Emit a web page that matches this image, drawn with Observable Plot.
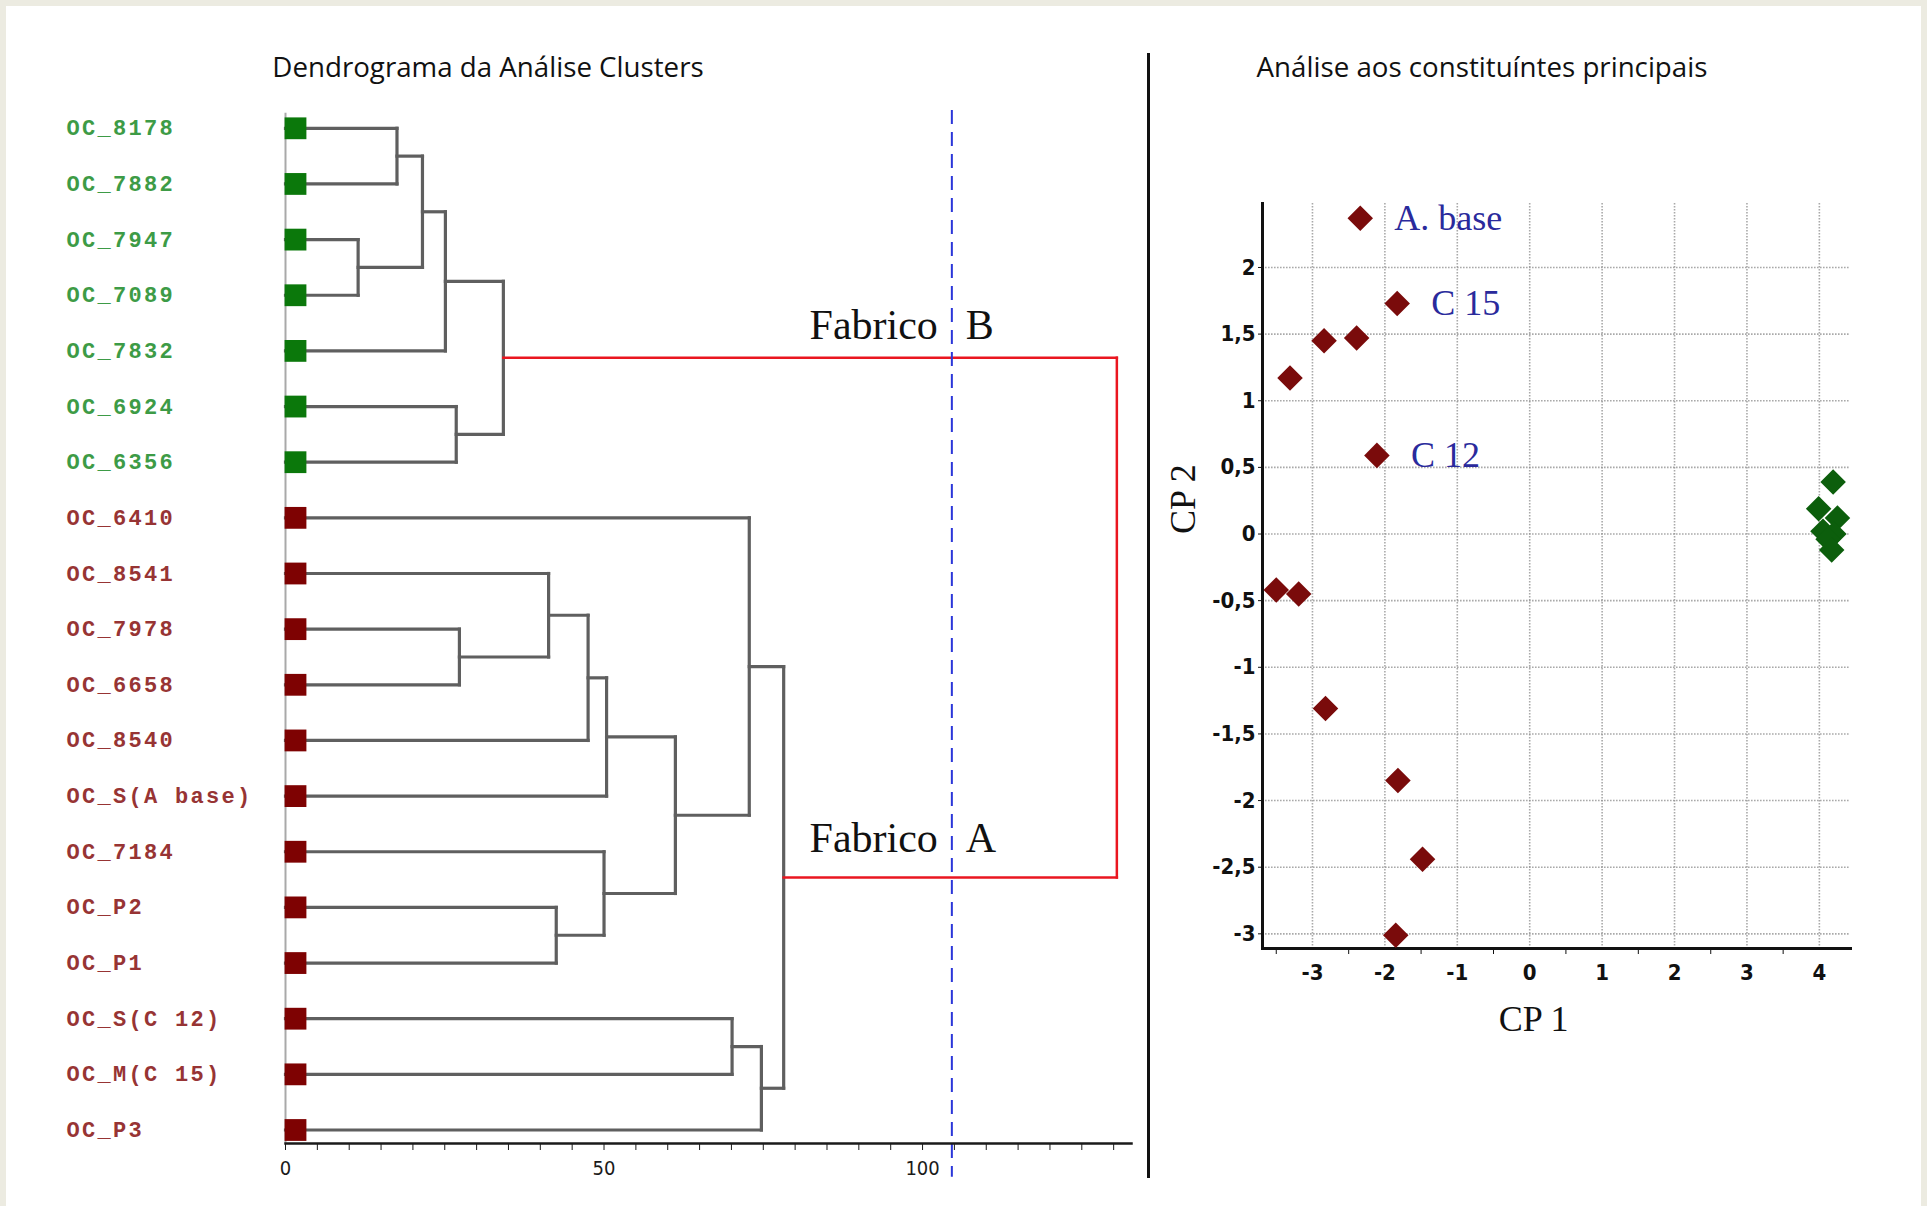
<!DOCTYPE html>
<html><head><meta charset="utf-8">
<script src="https://cdn.jsdelivr.net/npm/d3@7"></script>
<script src="https://cdn.jsdelivr.net/npm/@observablehq/plot@0.6"></script>
<style>
html,body{margin:0;padding:0;}
body{width:1927px;height:1206px;background:#ecebe1;position:relative;overflow:hidden;}
#panel{position:absolute;left:6px;top:6px;width:1915px;height:1200px;background:#fff;}
.abs{position:absolute;}
.title{font-family:"Open Sans",sans-serif;font-size:27.7px;color:#111;white-space:nowrap;transform:translate(-50%,-50%);}
#divider{left:1147px;top:53px;width:3px;height:1125px;background:#111;}
#dendro g[font-family*="Liberation Mono"], #dendro g[font-family*="Liberation Mono"] text{letter-spacing:2.3px;}
</style></head><body>
<div id="panel"></div>
<div id="dendro" class="abs" style="left:0;top:0;width:1140px"></div>
<div id="pca" class="abs" style="left:1148px;top:0;width:779px"></div>
<div id="divider" class="abs"></div>
<div class="abs title" style="left:488px;top:66px">Dendrograma da Análise Clusters</div>
<div class="abs title" style="left:1482px;top:66px">Análise aos constituíntes principais</div>
<script>
// ---------- Dendrogram data ----------
const leafNames = ["OC_8178","OC_7882","OC_7947","OC_7089","OC_7832","OC_6924","OC_6356",
  "OC_6410","OC_8541","OC_7978","OC_6658","OC_8540","OC_S(A base)","OC_7184","OC_P2","OC_P1",
  "OC_S(C 12)","OC_M(C 15)","OC_P3"];
const leafGroup = ["B","B","B","B","B","B","B","A","A","A","A","A","A","A","A","A","A","A","A"];
// merges: node ids 0..18 = leaves, 19.. = merges in order
const mergeLeft   = [0, 2, 19, 21, 5, 22, 9, 8, 26, 27, 14, 13, 28, 7, 16, 33, 32, 24];
const mergeRight  = [1, 3, 20, 4, 6, 23, 10, 25, 11, 12, 15, 29, 30, 31, 17, 18, 34, 35];
const mergeHeight = [17.5, 11.4, 21.5, 25.1, 26.8, 34.2, 27.3, 41.3, 47.5, 50.4, 42.5, 50.0, 61.2, 72.8, 70.1, 74.7, 78.2, 130.5];
const distTicks = d3.range(0, 131, 5);
const distLabels = [0, 50, 100];
const cutHeight = 104.6;
const fabricoNames = ["Fabrico", "B", "Fabrico", "A"];
const fabricoRow = [3.78, 3.78, 13.0, 13.0];

// ---------- PCA data ----------
const pcX = [-2.34, -1.83, -2.84, -2.39, -3.31, -2.11, -3.50, -3.19, -2.82, -1.82, -1.48, -1.85,
             4.19, 3.99, 4.25, 4.05, 4.20, 4.12, 4.17];
const pcY = [2.37, 1.73, 1.45, 1.47, 1.17, 0.59, -0.42, -0.45, -1.31, -1.85, -2.44, -3.01,
             0.39, 0.19, 0.12, 0.02, 0.00, -0.04, -0.12];
const pcGroup = ["A","A","A","A","A","A","A","A","A","A","A","A","B","B","B","B","B","B","B"];
const pcLabel = ["A. base","C 15","","","","C 12","","","","","","","","","","","","",""];
const cpXTicks = d3.range(-3, 5, 1);
const cpYTicks = [-3, -2.5, -2, -1.5, -1, -0.5, 0, 0.5, 1, 1.5, 2];
const cpXMinor = [-3.5, -2.5, -1.5, -0.5, 0.5, 1.5, 2.5, 3.5];

// ---------- build dendrogram segments ----------
const nLeaf = leafNames.length;
const pos = d3.range(nLeaf), hgt = new Array(nLeaf).fill(0);
const segs = [];
mergeLeft.forEach((a, k) => {
  const b = mergeRight[k], h = mergeHeight[k];
  const root = k === mergeLeft.length - 1;
  segs.push({x1: hgt[a], y1: pos[a], x2: h, y2: pos[a], root});
  segs.push({x1: hgt[b], y1: pos[b], x2: h, y2: pos[b], root});
  segs.push({x1: h, y1: pos[a], x2: h, y2: pos[b], root});
  pos.push((pos[a] + pos[b]) / 2); hgt.push(h);
});
const leaves = leafNames.map((name, i) => ({name, i, group: leafGroup[i]}));
const fab = fabricoNames.map((t, i) => ({t, row: fabricoRow[i], side: i % 2 === 0 ? "end" : "start"}));

const narrow = "'Liberation Sans Narrow','DejaVu Sans Condensed','Liberation Sans',sans-serif";
const serif = "'Liberation Serif','DejaVu Serif',serif";
const mono = "'Liberation Mono',monospace";

const dendro = Plot.plot({
  width: 1140, height: 1206,
  marginLeft: 285, marginRight: 9, marginTop: 0, marginBottom: 63,
  style: {background: "transparent", overflow: "visible", color: "#1a1a1a"},
  x: {domain: [0, 132.8]},
  y: {domain: [0, 18], range: [127.8, 1129.5], axis: null},
  marks: [
    Plot.ruleX([0], {y1: -0.27, y2: 18.24, stroke: "#a9a9a9", strokeWidth: 2}),
    Plot.link(segs.filter(d => !d.root), {x1: "x1", y1: "y1", x2: "x2", y2: "y2", stroke: "#5f5f5f", strokeWidth: 3.2, strokeLinecap: "square"}),
    Plot.link(segs.filter(d => d.root), {x1: "x1", y1: "y1", x2: "x2", y2: "y2", stroke: "#ea1620", strokeWidth: 2.5, strokeLinecap: "square"}),
    Plot.ruleX([cutHeight], {y1: -0.32, y2: 18.85, stroke: "#2b36d9", strokeWidth: 2, strokeDasharray: "14,8"}),
    Plot.dot(leaves.filter(d => d.group === "B"), {x: 0, y: "i", symbol: "square", r: 12.3, dx: 10, fill: "#0b780b"}),
    Plot.dot(leaves.filter(d => d.group === "A"), {x: 0, y: "i", symbol: "square", r: 12.3, dx: 10, fill: "#7e0202"}),
    Plot.text(leaves.filter(d => d.group === "B"), {x: 0, y: "i", text: "name", dx: -219, textAnchor: "start", fill: "#3d9b46", fontFamily: mono, fontWeight: "bold", fontSize: 22}),
    Plot.text(leaves.filter(d => d.group === "A"), {x: 0, y: "i", text: "name", dx: -219, textAnchor: "start", fill: "#973434", fontFamily: mono, fontWeight: "bold", fontSize: 22}),
    Plot.text(fab.filter(d => d.side === "end"), {x: cutHeight, y: "row", text: "t", dx: -14, textAnchor: "end", lineAnchor: "bottom", fontFamily: serif, fontSize: 42, fill: "#111"}),
    Plot.text(fab.filter(d => d.side === "start"), {x: cutHeight, y: "row", text: "t", dx: 14, textAnchor: "start", lineAnchor: "bottom", fontFamily: serif, fontSize: 42, fill: "#111"}),
    Plot.frame({anchor: "bottom", stroke: "#1a1a1a", strokeWidth: 2.5}),
    Plot.axisX({ticks: distTicks, tickSize: 7, tickPadding: 10, tickFormat: d => distLabels.includes(d) ? String(d) : "", fontSize: 20, fontFamily: narrow, label: null})
  ]
});
document.getElementById("dendro").append(dendro);

// ---------- PCA scatter ----------
const pts = pcX.map((x, i) => ({x, y: pcY[i], g: pcGroup[i], label: pcLabel[i]}));
const fmt = d => String(d).replace(".", ",");
const gridStyle = {stroke: "#8c8c8c", strokeOpacity: 0.75, strokeWidth: 1.6, strokeDasharray: "1.6,1.4"};
const pca = Plot.plot({
  width: 779, height: 1206,
  marginLeft: 114, marginRight: 77, marginTop: 203, marginBottom: 258,
  style: {background: "transparent", overflow: "visible", color: "#111"},
  x: {domain: [-3.69, 4.43]},
  y: {domain: [-3.11, 2.48]},
  marks: [
    Plot.gridX({ticks: cpXTicks, ...gridStyle}),
    Plot.gridY({ticks: cpYTicks, ...gridStyle}),
    Plot.axisY({ticks: cpYTicks, tickSize: 4, tickPadding: 3, tickFormat: fmt, fontSize: 22, fontWeight: "bold", fontFamily: narrow, label: null}),
    Plot.axisX({ticks: cpXTicks, tickSize: 0, tickPadding: 16, tickFormat: fmt, fontSize: 22, fontWeight: "bold", fontFamily: narrow, label: null}),
    Plot.axisX({ticks: cpXMinor, tickSize: 6, tickFormat: () => "", label: null}),
    Plot.frame({anchor: "left", stroke: "#111", strokeWidth: 3}),
    Plot.frame({anchor: "bottom", stroke: "#111", strokeWidth: 3}),
    Plot.dot(pts.filter(d => d.g === "A"), {x: "x", y: "y", symbol: "diamond2", r: 11.5, fill: "#7a0b0b"}),
    Plot.dot(pts.filter(d => d.g === "B"), {x: "x", y: "y", symbol: "diamond2", r: 11.5, fill: "#0c5e0c"}),
    Plot.text(pts.filter(d => d.label), {x: "x", y: "y", text: "label", dx: 34, textAnchor: "start", fontSize: 36, fontFamily: serif, fill: "#2a2a9c"}),
    Plot.text(["CP 1"], {x: 0, frameAnchor: "bottom", dy: 82, dx: 4, text: d => d, fontSize: 36, fontFamily: serif, fill: "#111"}),
    Plot.text(["CP 2"], {y: 0, frameAnchor: "left", dx: -79, rotate: -90, text: d => d, fontSize: 36, fontFamily: serif, fill: "#111"})
  ]
});
document.getElementById("pca").append(pca);
</script>
</body></html>
